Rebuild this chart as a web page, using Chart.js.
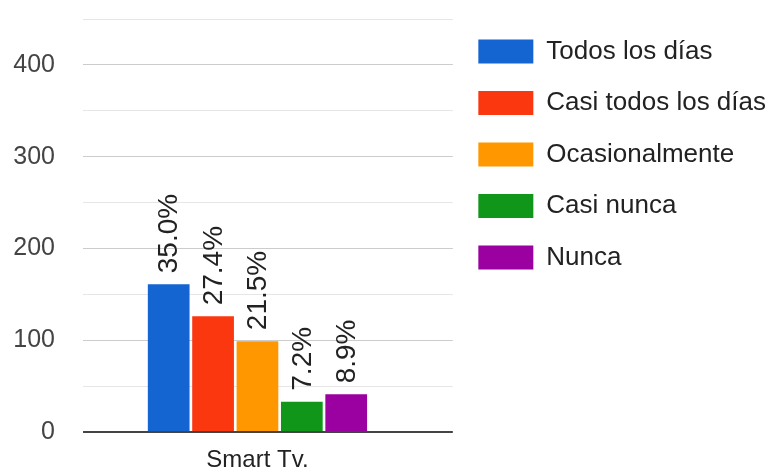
<!DOCTYPE html>
<html lang="es">
<head>
<meta charset="utf-8">
<title>Smart Tv.</title>
<script src="https://cdn.jsdelivr.net/npm/chart.js@4.4.1/dist/chart.umd.min.js"></script>
<style>
    html, body {
        margin: 0;
        padding: 0;
        background: #ffffff;
        overflow: hidden;
    }
    #contenedor {
        position: relative;
        width: 776px;
        height: 476px;
    }
</style>
</head>
<body>

<div id="contenedor">
    <canvas id="graficoFrecuencia"></canvas>
</div>

<script>

const categorias = [
    "Smart Tv."
];

const respuestas = [
    "Todos los días",
    "Casi todos los días",
    "Ocasionalmente",
    "Casi nunca",
    "Nunca"
];

// cantidad de personas por respuesta
const cantidades = [
    161,
    126,
    99,
    33,
    41
];

const colores = [
    "#1464d2",
    "#fa370f",
    "#ff9800",
    "#109618",
    "#9b00a0"
];

const marcasEje = [
    0,
    100,
    200,
    300,
    400
];

const total =
cantidades.reduce(
    (a, b) => a + b,
    0
);

const fuente =
"'Liberation Sans', Arial, sans-serif";

// porcentaje escrito vertical encima de cada barra
const etiquetasPorcentaje = {

    id: "etiquetasPorcentaje",

    afterDatasetsDraw(chart){

        const ctx =
        chart.ctx;

        chart.data.datasets.forEach((ds, i) => {

            const meta =
            chart.getDatasetMeta(i);

            if(meta.hidden) return;

            meta.data.forEach((barra, j) => {

                const texto =
                (ds.data[j].y / total * 100).toFixed(1) + "%";

                ctx.save();
                ctx.translate(
                    barra.x,
                    barra.y - 11
                );
                ctx.rotate(
                    -Math.PI / 2
                );
                ctx.font =
                "28px " + fuente;
                ctx.fillStyle =
                "#222222";
                ctx.textAlign =
                "left";
                ctx.textBaseline =
                "middle";
                ctx.fillText(
                    texto,
                    0,
                    1
                );
                ctx.restore();

            });

        });

    }

};

new Chart(

    document.getElementById(
        "graficoFrecuencia"
    ),

    {

        type: "bar",

        data: {

            datasets:
            respuestas.map((r, i) => ({
                label: r,
                data: [{ x: 0, y: cantidades[i] }],
                backgroundColor: colores[i],
                borderWidth: 0,
                categoryPercentage: 0.6,
                barPercentage: 0.94
            }))

        },

        options: {

            responsive: true,

            maintainAspectRatio: false,

            animation: false,

            layout: {
                padding: {
                    left: 12,
                    top: 13,
                    right: 0,
                    bottom: 0
                }
            },

            plugins: {

                legend: {
                    position: "right",
                    align: "start",
                    maxWidth: 340,
                    labels: {
                        boxWidth: 55,
                        boxHeight: 24,
                        padding: 25.5,
                        color: "#222222",
                        font: {
                            family: fuente,
                            size: 26
                        }
                    }
                },

                tooltip: {
                    enabled: false
                }

            },

            scales: {

                // una sola categoría, algo corrida a la izquierda
                x: {
                    type: "linear",
                    bounds: "data",
                    offset: false,
                    min: -0.5,
                    max: 0.56,
                    grid: {
                        display: false
                    },
                    border: {
                        display: false
                    },
                    afterBuildTicks: eje => {
                        eje.ticks = [{ value: 0 }];
                    },
                    afterFit: eje => {
                        eje.height = 44;
                    },
                    ticks: {
                        color: "#222222",
                        padding: 6,
                        font: {
                            family: fuente,
                            size: 24
                        },
                        callback: () =>
                            categorias[0]
                    }
                },

                y: {
                    min: 0,
                    max: 450,
                    border: {
                        display: false
                    },
                    grid: {
                        drawTicks: false,
                        lineWidth: c =>
                            c.tick && c.tick.value === 0 ? 2 : 1,
                        color: c =>
                            !c.tick ? "#e6e6e6" :
                            c.tick.value === 0 ? "#444444" :
                            marcasEje.includes(c.tick.value) ? "#cccccc" :
                            "#e6e6e6"
                    },
                    ticks: {
                        stepSize: 50,
                        padding: 28,
                        color: "#444444",
                        font: {
                            family: fuente,
                            size: 25
                        },
                        callback: v =>
                            marcasEje.includes(v) ? v : ""
                    },
                    // ancho fijo del eje y margen superior del área
                    afterFit: eje => {
                        eje.width = 71;
                        eje.paddingTop = 19;
                        eje.paddingBottom = 0;
                    }
                }

            }

        },

        plugins: [
            etiquetasPorcentaje
        ]

    }

);

</script>
</body>
</html>
